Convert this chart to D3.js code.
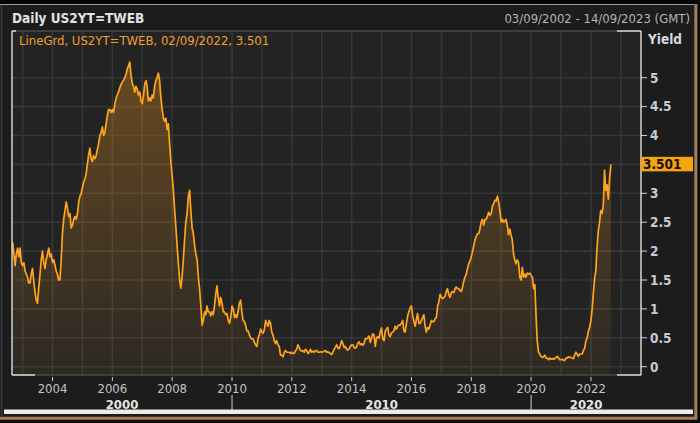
<!DOCTYPE html>
<html><head><meta charset="utf-8">
<script src="https://cdn.jsdelivr.net/npm/d3@7"></script>
<style>
html,body{margin:0;padding:0;background:#1c1c1c;}
svg{display:block;}
text{font-family:"DejaVu Sans Condensed","DejaVu Sans",sans-serif;font-stretch:condensed;}
</style></head>
<body><svg id="c" width="700" height="423"></svg>
<script>
// ---- data (semi-monthly readings: 1st and 16th of each month) ----
const title = "Daily US2YT=TWEB";
const rangeText = "03/09/2002 - 14/09/2023 (GMT)";
const legendText = "LineGrd, US2YT=TWEB, 02/09/2022, 3.501";
const lastValueLabel = "3.501";
const axisTitle = "Yield";
const startDate = new Date(2002, 8, 1);
const endDate = new Date(2022, 8, 2);
const y2002 = [2.15,1.95,1.75,1.95,2.05,1.90,2.05,1.80];
const y2003 = [1.75,1.80,1.65,1.60,1.55,1.45,1.45,1.60,1.70,1.50,1.30,1.15,1.10,1.35,1.60,1.85,2.00,1.80,1.70,1.85,1.95,2.05,1.90,1.95];
const y2004 = [1.80,1.85,1.75,1.65,1.60,1.50,1.50,1.85,2.30,2.55,2.70,2.85,2.75,2.60,2.65,2.40,2.45,2.55,2.60,2.55,2.65,2.85,2.95,3.00];
const y2005 = [3.10,3.20,3.25,3.35,3.50,3.65,3.78,3.60,3.55,3.65,3.60,3.65,3.75,3.85,4.00,4.05,4.15,4.00,4.05,4.20,4.35,4.45,4.45,4.40];
const y2006 = [4.45,4.40,4.55,4.65,4.70,4.75,4.82,4.88,4.92,4.95,5.00,5.05,5.15,5.20,5.27,5.05,4.90,4.85,4.75,4.85,4.80,4.70,4.75,4.60];
const y2007 = [4.55,4.70,4.90,4.95,4.85,4.60,4.65,4.60,4.70,4.65,4.85,4.95,5.00,5.08,4.95,4.65,4.45,4.30,4.25,4.30,4.10,4.20,3.85,3.55];
const y2008 = [3.30,3.05,2.70,2.40,2.10,1.80,1.50,1.36,1.55,1.85,2.20,2.50,2.65,2.95,3.05,2.70,2.40,2.30,2.10,1.95,1.85,1.55,1.35,1.05];
const y2009 = [0.72,0.80,0.95,0.90,1.05,0.95,0.95,0.88,0.95,0.90,1.05,1.25,1.40,1.20,1.05,1.20,1.10,0.95,0.95,0.90,0.92,0.80,0.75,0.85];
const y2010 = [1.05,1.00,0.85,0.90,0.85,0.95,1.10,1.15,0.95,0.80,0.78,0.72,0.62,0.62,0.55,0.50,0.48,0.48,0.42,0.38,0.35,0.50,0.55,0.65];
const y2011 = [0.60,0.58,0.65,0.80,0.75,0.70,0.80,0.75,0.60,0.55,0.45,0.40,0.45,0.38,0.35,0.20,0.20,0.17,0.25,0.28,0.25,0.25,0.25,0.23];
const y2012 = [0.25,0.23,0.23,0.28,0.30,0.38,0.33,0.28,0.27,0.28,0.25,0.30,0.28,0.23,0.25,0.30,0.25,0.27,0.25,0.28,0.28,0.25,0.25,0.26];
const y2013 = [0.25,0.26,0.27,0.28,0.25,0.26,0.24,0.23,0.21,0.25,0.30,0.33,0.38,0.33,0.31,0.37,0.45,0.40,0.33,0.35,0.30,0.29,0.31,0.35];
const y2014 = [0.38,0.38,0.33,0.32,0.34,0.40,0.43,0.38,0.40,0.37,0.40,0.48,0.48,0.50,0.53,0.42,0.50,0.57,0.55,0.35,0.50,0.52,0.49,0.60];
const y2015 = [0.67,0.48,0.45,0.62,0.65,0.68,0.55,0.52,0.58,0.60,0.62,0.70,0.65,0.70,0.72,0.72,0.75,0.80,0.62,0.60,0.75,0.88,0.95,1.02];
const y2016 = [1.05,0.88,0.78,0.70,0.82,0.92,0.75,0.75,0.80,0.85,0.90,0.70,0.60,0.68,0.65,0.72,0.80,0.78,0.78,0.83,0.85,1.05,1.12,1.25];
const y2017 = [1.20,1.18,1.20,1.22,1.30,1.35,1.25,1.20,1.28,1.30,1.28,1.35,1.38,1.35,1.35,1.32,1.30,1.38,1.48,1.55,1.60,1.70,1.78,1.83];
const y2018 = [1.90,2.00,2.10,2.20,2.25,2.30,2.30,2.38,2.50,2.55,2.45,2.55,2.55,2.60,2.67,2.62,2.65,2.78,2.82,2.88,2.87,2.95,2.85,2.70];
const y2019 = [2.50,2.55,2.50,2.52,2.55,2.45,2.28,2.38,2.28,2.20,1.95,1.85,1.78,1.85,1.80,1.55,1.50,1.72,1.55,1.60,1.55,1.62,1.60,1.62];
const y2020 = [1.58,1.55,1.35,1.42,0.90,0.45,0.25,0.22,0.18,0.16,0.17,0.20,0.15,0.15,0.12,0.15,0.13,0.14,0.13,0.14,0.16,0.18,0.15,0.12];
const y2021 = [0.12,0.13,0.11,0.11,0.15,0.15,0.17,0.16,0.16,0.15,0.14,0.20,0.25,0.22,0.18,0.22,0.22,0.22,0.28,0.32,0.45,0.50,0.62,0.68];
const y2022 = [0.80,1.00,1.30,1.55,1.65,2.05,2.35,2.50,2.70,2.65,2.80,3.40,3.05,3.15,2.90,3.25,3.501];
const allValues = [].concat(y2002,y2003,y2004,y2005,y2006,y2007,y2008,y2009,y2010,y2011,y2012,y2013,y2014,y2015,y2016,y2017,y2018,y2019,y2020,y2021,y2022);
const yTicks = [0,0.5,1,1.5,2,2.5,3,3.5,4,4.5,5];
// the 3.5 label is hidden behind the last-value box in the reference
const yTickLabels = ["0","0.5","1","1.5","2","2.5","3","","4","4.5","5"];
const yearTicks = [2004,2006,2008,2010,2012,2014,2016,2018,2020,2022];
const decades = [{label:"2000", from:null, to:2010},{label:"2010", from:2010, to:2020},{label:"2020", from:2020, to:null}];

const data = allValues.map((v,i)=>{
  let d = new Date(startDate.getFullYear(), startDate.getMonth() + Math.floor(i/2), (i%2) ? 16 : 1);
  if (i === allValues.length-1) d = endDate;
  return {d, v};
});

// ---- layout ----
const W=700,H=423;
const L=12,R=641,T=31,B=375;
const svg=d3.select("#c");
const x=d3.scaleTime().domain([new Date(2002,8,3), new Date(2023,8,14)]).range([L+0.8,R+0.8]);
const y=d3.scaleLinear().domain([-0.1436,5.808]).range([B,T]);

// background & frame
svg.append("rect").attr("width",W).attr("height",H).attr("fill","#1c1c1c");
svg.append("rect").attr("x",0).attr("y",0).attr("width",W).attr("height",4).attr("fill","#060606");
svg.append("line").attr("x1",0).attr("x2",694).attr("y1",4.5).attr("y2",4.5).attr("stroke","#9a9a9a").attr("stroke-width",1.2);
svg.append("line").attr("x1",1.5).attr("x2",1.5).attr("y1",5).attr("y2",416).attr("stroke","#3a3a3a").attr("stroke-width",1.5);
svg.append("rect").attr("x",698).attr("y",0).attr("width",2).attr("height",H).attr("fill","#0c0c0c");
svg.append("line").attr("x1",695.8).attr("x2",695.8).attr("y1",4).attr("y2",419).attr("stroke","#a27c55").attr("stroke-width",3);
svg.append("rect").attr("x",0).attr("y",420).attr("width",W).attr("height",3).attr("fill","#0c0c0c");
svg.append("line").attr("x1",0).attr("x2",697).attr("y1",418.3).attr("y2",418.3).attr("stroke","#a27c55").attr("stroke-width",3);
svg.append("rect").attr("x",4).attr("y",409.5).attr("width",689).attr("height",4.5).attr("fill","#ececec");

// plot background
svg.append("rect").attr("x",L).attr("y",T).attr("width",R-L).attr("height",B-T).attr("fill","#232323");

// gridlines
const g=svg.append("g");
const years=d3.range(2003,2024).map(yr=>new Date(yr,0,1));
g.selectAll(".vg").data(years).join("line")
 .attr("x1",d=>x(d)).attr("x2",d=>x(d)).attr("y1",T).attr("y2",B)
 .attr("stroke","#363636").attr("stroke-width",1.6);
g.selectAll(".hg").data(yTicks).join("line")
 .attr("x1",L).attr("x2",R).attr("y1",d=>y(d)).attr("y2",d=>y(d))
 .attr("stroke","#363636").attr("stroke-width",1.6);

// gradient
const defs=svg.append("defs");
const grad=defs.append("linearGradient").attr("id","ag").attr("gradientUnits","userSpaceOnUse")
 .attr("x1",0).attr("x2",0).attr("y1",T).attr("y2",B);
grad.append("stop").attr("offset","0").attr("stop-color","#ffa020").attr("stop-opacity",0.34);
grad.append("stop").attr("offset","0.6").attr("stop-color","#ffa020").attr("stop-opacity",0.16);
grad.append("stop").attr("offset","1").attr("stop-color","#ffa020").attr("stop-opacity",0.04);
defs.append("clipPath").attr("id","pc").append("rect").attr("x",L).attr("y",T).attr("width",R-L).attr("height",B-T);

const plot=svg.append("g").attr("clip-path","url(#pc)");
plot.append("path").datum(data)
 .attr("d",d3.area().x(d=>x(d.d)).y0(B).y1(d=>y(d.v)))
 .attr("fill","url(#ag)");
plot.append("path").datum(data)
 .attr("d",d3.line().x(d=>x(d.d)).y(d=>y(d.v)))
 .attr("fill","none").attr("stroke","#ffa41c").attr("stroke-width",1.7).attr("stroke-linejoin","round");

// plot frame
svg.append("line").attr("x1",L).attr("x2",R).attr("y1",T).attr("y2",T).attr("stroke","#5c5c5c").attr("stroke-width",1.2);
svg.append("line").attr("x1",L).attr("x2",R).attr("y1",B).attr("y2",B).attr("stroke","#5c5c5c").attr("stroke-width",1.2);
[[L,T,L+4,T],[617,T,R,T],[L,B,35,B],[617,B,R,B],[L,T,L,B],[R,T,R,B]].forEach(s=>{
  svg.append("line").attr("x1",s[0]).attr("y1",s[1]).attr("x2",s[2]).attr("y2",s[3]).attr("stroke","#f0f0f0").attr("stroke-width",1.3);
});

// y axis (right)
const ya=svg.append("g").attr("transform",`translate(${R},0)`);
ya.selectAll("line").data(yTicks).join("line")
 .attr("x1",0).attr("x2",6).attr("y1",d=>y(d)).attr("y2",d=>y(d)).attr("stroke","#d0d0d0").attr("stroke-width",1);
ya.selectAll("text").data(yTicks.filter((d,i)=>yTickLabels[i]!=="")).join("text")
 .attr("x",9).attr("y",d=>y(d)).attr("dy","0.36em")
 .attr("fill","#c9c9d2").attr("font-size","13.5px").attr("font-weight","bold")
 .text(d=>yTickLabels[yTicks.indexOf(d)]);

// last value label
const lv=allValues[allValues.length-1];
svg.append("rect").attr("x",R).attr("y",y(lv)-7.5).attr("width",52).attr("height",14.5).attr("fill","#f6a310");
svg.append("text").attr("x",R+2).attr("y",y(lv)).attr("dy","0.37em").attr("fill","#1a1208")
 .attr("font-size","13.5px").attr("font-weight","bold").text(lastValueLabel);

// x axis
const xa=svg.append("g");
xa.selectAll("line").data(yearTicks).join("line")
 .attr("x1",d=>x(new Date(d,0,1))).attr("x2",d=>x(new Date(d,0,1))).attr("y1",B+2).attr("y2",B+6)
 .attr("stroke","#cfcfcf").attr("stroke-width",1);
xa.selectAll("text").data(yearTicks).join("text")
 .attr("x",d=>x(new Date(d,0,1))).attr("y",393).attr("text-anchor","middle")
 .attr("fill","#c4c4c4").attr("font-size","13px").text(d=>d);
decades.forEach(dc=>{
  const a = dc.from===null ? L : x(new Date(dc.from,0,1));
  const b = dc.to===null ? R : x(new Date(dc.to,0,1));
  svg.append("text").attr("x",(a+b)/2).attr("y",408.5).attr("text-anchor","middle")
   .attr("fill","#e6e6e6").attr("font-size","13px").attr("font-weight","bold").text(dc.label);
  if(dc.from!==null){
    svg.append("line").attr("x1",a).attr("x2",a).attr("y1",395).attr("y2",410).attr("stroke","#cfcfcf").attr("stroke-width",1);
  }
});

// titles
svg.append("text").attr("x",12).attr("y",23).attr("fill","#e2e2e2").attr("font-size","13.5px").attr("font-weight","bold").text(title);
svg.append("text").attr("x",690).attr("y",23).attr("text-anchor","end").attr("fill","#b4b4b4").attr("font-size","13px").text(rangeText);
svg.append("text").attr("x",19).attr("y",45).attr("fill","#f0a030").attr("font-size","13px").text(legendText);
svg.append("text").attr("x",648).attr("y",44).attr("fill","#d8d8e0").attr("font-size","13.5px").attr("font-weight","bold").text(axisTitle);
</script></body></html>
